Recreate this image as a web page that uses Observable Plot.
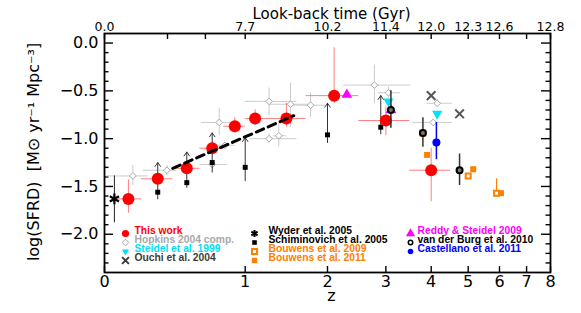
<!DOCTYPE html>
<html><head><meta charset="utf-8">
<script src="https://cdn.jsdelivr.net/npm/d3@7"></script>
<script src="https://cdn.jsdelivr.net/npm/@observablehq/plot@0.6"></script>
<style>
body{margin:0;background:#fff;}
#chart svg{display:block;}
</style></head><body><div id="chart"></div>
<script>
// ---- axes / ticks ----
const bottomTickZ = [0, 1, 2, 3, 4, 5, 6, 7, 8];
const topTickZ = [0, 0.364, 0.644, 1, 2, 3, 4, 5, 6, 7, 8];
const topLabelZ = [0, 1, 2, 3, 4, 5, 6, 8];
const topLabels = ["0.0", "7.7", "10.2", "11.4", "12.0", "12.3", "12.6", "12.8"];
const yMajor = [0, -0.5, -1, -1.5, -2];
const yMinor = [-2.3,-2.2,-2.1,-1.9,-1.8,-1.7,-1.6,-1.4,-1.3,-1.2,-1.1,-0.9,-0.8,-0.7,-0.6,-0.4,-0.3,-0.2,-0.1];

// ---- This work (red) ----
const twZ    = [0.125, 0.30, 0.50, 0.70, 0.90, 1.10, 1.45, 2.10, 3.00, 4.00];
const twZlo  = [0.07, 0.20, 0.40, 0.60, 0.80, 1.00, 1.20, 1.70, 2.50, 3.50];
const twZhi  = [0.20, 0.40, 0.60, 0.80, 1.00, 1.20, 1.70, 2.50, 3.50, 4.50];
const twV    = [-1.63, -1.42, -1.31, -1.10, -0.87, -0.79, -0.79, -0.55, -0.81, -1.33];
const twVlo  = [-1.78, -1.47, -1.36, -1.16, -0.94, -0.86, -0.88, -0.63, -0.97, -1.66];
const twVhi  = [-1.43, -1.37, -1.26, -1.04, -0.78, -0.70, -0.63, -0.05, -0.67, -1.10];

// ---- Hopkins 2004 compilation (gray diamonds) ----
const hopZ   = [0.15, 0.36, 0.70, 0.76, 0.81, 1.25, 1.25, 1.36, 1.50, 1.76, 2.78, 3.05, 4.15, 4.05];
const hopZlo = [0.01, 0.21, 0.60, 0.61, 0.72, 1.00, 1.05, 1.30, 1.25, 1.54, 2.25, 2.85, 3.90, 3.57];
const hopZhi = [0.24, 0.43, 0.83, 0.95, 0.90, 1.58, 1.58, 1.45, 1.75, 1.97, 3.52, 3.30, 4.55, 4.55];
const hopV   = [-1.39, -1.33, -1.27, -0.83, -1.07, -0.61, -1.00, -0.97, -0.64, -0.65, -0.44, -0.52, -0.63, -0.83];
const hopVlo = [-1.49, -1.39, -1.30, -0.97, -1.10, -0.76, -1.05, -1.09, -0.88, -0.78, -0.63, -0.58, -0.67, -0.86];
const hopVhi = [-1.28, -1.28, -1.24, -0.68, -1.04, -0.47, -0.95, -0.84, -0.42, -0.52, -0.23, -0.46, -0.59, -0.80];

// ---- Schiminovich et al. 2005 (black squares, lower limits with arrows) ----
const schZ   = [0.30, 0.50, 0.70, 1.00, 2.00, 2.90];
const schV   = [-1.56, -1.46, -1.25, -1.30, -0.96, -0.88];
const schVlo = [-1.63, -1.51, -1.35, -1.44, -1.04, -0.95];
const schTop = [-1.25, -1.14, -0.94, -0.99, -0.63, -0.55];

// ---- Wyder et al. 2005 ----
const wyZ = [0.05], wyV = [-1.63], wyVlo = [-1.88], wyVhi = [-1.39];

// ---- Ouchi et al. 2004 ----
const ouZ = [4.0, 4.75], ouV = [-0.55, -0.74];
// ---- Steidel et al. 1999 ----
const stZ = [3.05, 4.15], stV = [-0.61, -0.74];
// ---- Reddy & Steidel 2009 ----
const rsZ = [2.3, 3.1], rsV = [-0.54, -0.70];
// ---- van der Burg et al. 2010 ----
const vbZ = [3.1, 3.8, 4.75], vbV = [-0.70, -0.94, -1.33];
const vbVlo = [-0.89, -1.09, -1.49], vbVhi = [-0.50, -0.78, -1.16];
// ---- Bouwens et al. 2009 (open orange squares) ----
const b9Z = [3.8, 5.0, 5.9], b9V = [-0.94, -1.39, -1.57];
const b9Vlo = [-0.94, -1.39, -1.57], b9Vhi = [-0.94, -1.39, -1.42];
// ---- Bouwens et al. 2011 (filled orange squares) ----
const b11Z = [3.9, 5.15, 6.05], b11V = [-1.17, -1.32, -1.57];
// ---- Castellano et al. 2011 ----
const caZ = [4.13], caV = [-1.04], caVlo = [-1.22], caVhi = [-0.83];

// ---- dashed fit line ----
const fitZ = [0.40, 1.54], fitV = [-1.31, -0.76];

// ---- legend ----
const legendLabels = ["This work", "Hopkins 2004 comp.", "Steidel et al. 1999", "Ouchi et al. 2004",
  "Wyder et al. 2005", "Schiminovich et al. 2005", "Bouwens et al. 2009", "Bouwens et al. 2011",
  "Reddy & Steidel 2009", "van der Burg et al. 2010", "Castellano et al. 2011"];
const legendColors = ["#ff0000", "#a8a8a8", "#00e0f0", "#3c3c3c", "#000000", "#000000",
  "#ff8000", "#ff8000", "#ff00ff", "#000000", "#0000ff"];

// x position is log10(1+z)
const L = z => Math.log10(1 + z);

// ---- build tables ----
const tw = twZ.map((z, i) => ({x: L(z), xlo: L(twZlo[i]), xhi: L(twZhi[i]), v: twV[i], lo: twVlo[i], hi: twVhi[i]}));
const hop = hopZ.map((z, i) => ({x: L(z), xlo: L(hopZlo[i]), xhi: L(hopZhi[i]), v: hopV[i], lo: hopVlo[i], hi: hopVhi[i]}));
const sch = schZ.map((z, i) => ({x: L(z), v: schV[i], lo: schVlo[i], top: schTop[i]}));
const wy = wyZ.map((z, i) => ({x: L(z), v: wyV[i], lo: wyVlo[i], hi: wyVhi[i]}));
const ou = ouZ.map((z, i) => ({x: L(z), v: ouV[i]}));
const st = stZ.map((z, i) => ({x: L(z), v: stV[i]}));
const rs = rsZ.map((z, i) => ({x: L(z), v: rsV[i]}));
const vb = vbZ.map((z, i) => ({x: L(z), v: vbV[i], lo: vbVlo[i], hi: vbVhi[i]}));
const b9 = b9Z.map((z, i) => ({x: L(z), v: b9V[i], lo: b9Vlo[i], hi: b9Vhi[i]}));
const b11 = b11Z.map((z, i) => ({x: L(z), v: b11V[i]}));
const ca = caZ.map((z, i) => ({x: L(z), v: caV[i], lo: caVlo[i], hi: caVhi[i]}));
const fit = fitZ.map((z, i) => ({x: L(z), v: fitV[i]}));
const bottomLab = bottomTickZ.map(z => ({x: L(z), t: String(z)}));
const topLab = topLabelZ.map((z, i) => ({x: L(z), t: topLabels[i]}));

const W = 581, H = 313, ML = 104, MR = 31, MT = 33, MB = 41;
const PW = W - ML - MR, PH = H - MT - MB;
const xDom = [0, L(8)], yDom = [-2.4, 0.1];

const legendSym = [
  {symbol: "circle", fill: "#ff0000", r: 3.6},
  {symbol: "diamond2", stroke: "#a8a8a8", r: 3, strokeWidth: 1},
  {symbol: "triangle", fill: "#00e0f0", r: 2.6, rotate: 180},
  {symbol: "times", stroke: "#3c3c3c", r: 3.2, strokeWidth: 2},
  {symbol: "asterisk", stroke: "#000", r: 3.4, strokeWidth: 2},
  {symbol: "square", fill: "#000", r: 2.6},
  {symbol: "square2", stroke: "#ff8000", r: 3.2, strokeWidth: 2},
  {symbol: "square", fill: "#ff8000", r: 3},
  {symbol: "triangle", fill: "#ff00ff", r: 3.4},
  {symbol: "circle", stroke: "#000", fill: "#fff", r: 2.2, strokeWidth: 1.5},
  {symbol: "circle", fill: "#0000ff", r: 2.8}
];
const colMarkDx = [21, 150, 306], colTextDx = [30, 164, 313], rowDy = [-39, -30, -21, -12];
const legendPos = legendLabels.map((_, i) => i < 4 ? [0, i] : i < 8 ? [1, i - 4] : [2, i - 8]);

const legendMarks = legendLabels.flatMap((lab, i) => {
  const [c, r] = legendPos[i];
  return [
    Plot.dot([lab], {frameAnchor: "bottom-left", dx: colMarkDx[c], dy: rowDy[r], ...legendSym[i]}),
    Plot.text([lab], {frameAnchor: "bottom-left", dx: colTextDx[c], dy: rowDy[r], text: d => d,
      textAnchor: "start", fill: legendColors[i], fontSize: 10.3, fontWeight: "bold",
      fontFamily: "Liberation Sans", letterSpacing: 0.3})
  ];
});

const chart = Plot.plot({
  width: W, height: H,
  marginLeft: ML, marginRight: MR, marginTop: MT, marginBottom: MB,
  style: {fontFamily: "DejaVu Sans"},
  x: {domain: xDom, axis: null},
  y: {domain: yDom, axis: null},
  marks: [
    Plot.text(bottomLab, {x: "x", text: "t", frameAnchor: "bottom", lineAnchor: "top", dy: 3, fontSize: 16}),
    Plot.text(topLab, {x: "x", text: "t", frameAnchor: "top", lineAnchor: "bottom", dy: -3, fontSize: 12.5}),
    Plot.axisY(yMajor, {anchor: "left", tickSize: 0, tickPadding: 6,
      tickFormat: d => d.toFixed(1).replace("-", "\u2212"), fontSize: 16, label: null}),
    Plot.text(["z"], {frameAnchor: "bottom", dy: 28, dx: 4, text: d => d, fontSize: 16}),
    Plot.text(["Look-back time (Gyr)"], {frameAnchor: "top", dy: -25, dx: 4, text: d => d, fontSize: 15}),
    Plot.text(["log(SFRD)  [M\u2299 yr\u207B\u00B9 Mpc\u207B\u00B3]"], {frameAnchor: "left", dx: -71, dy: -1,
      rotate: -90, textAnchor: "middle", text: d => d, fontSize: 16}),

    // inward ticks
    Plot.tickX(bottomTickZ, {x: L, insetTop: PH - 6, stroke: "black", strokeWidth: 1.4}),
    Plot.tickX(topTickZ, {x: L, insetBottom: PH - 6, stroke: "black", strokeWidth: 1.4}),
    Plot.tickY(yMajor, {y: d => d, insetRight: PW - 9, stroke: "black", strokeWidth: 1.4}),
    Plot.tickY(yMinor, {y: d => d, insetRight: PW - 4.5, stroke: "black", strokeWidth: 1.4}),
    Plot.tickY(yMajor, {y: d => d, insetLeft: PW - 9, stroke: "black", strokeWidth: 1.4}),
    Plot.tickY(yMinor, {y: d => d, insetLeft: PW - 4.5, stroke: "black", strokeWidth: 1.4}),

    // Hopkins
    Plot.ruleY(hop, {y: "v", x1: "xlo", x2: "xhi", stroke: "#cccccc", strokeWidth: 1}),
    Plot.ruleX(hop, {x: "x", y1: "lo", y2: "hi", stroke: "#cccccc", strokeWidth: 1}),
    Plot.dot(hop, {x: "x", y: "v", symbol: "diamond2", r: 3, stroke: "#aaaaaa", strokeWidth: 1, fill: "#fff"}),

    // This work error bars
    Plot.ruleY(tw, {y: "v", x1: "xlo", x2: "xhi", stroke: "#ff7f7f", strokeWidth: 1}),
    Plot.ruleX(tw, {x: "x", y1: "lo", y2: "hi", stroke: "#ff7f7f", strokeWidth: 1}),

    // Schiminovich
    Plot.arrow(sch, {x1: "x", x2: "x", y1: "lo", y2: "top", stroke: "#333", strokeWidth: 1, headLength: 7, headAngle: 70}),
    Plot.dot(sch, {x: "x", y: "v", symbol: "square", r: 2.8, fill: "#000"}),

    // Wyder
    Plot.ruleX(wy, {x: "x", y1: "lo", y2: "hi", stroke: "#222", strokeWidth: 1}),
    Plot.dot(wy, {x: "x", y: "v", symbol: "asterisk", r: 5, stroke: "#000", strokeWidth: 2.2}),

    // This work
    Plot.dot(tw, {x: "x", y: "v", r: 6, fill: "#ff0000"}),

    // dashed fit
    Plot.line(fit, {x: "x", y: "v", stroke: "#000", strokeWidth: 3, strokeDasharray: "8,5"}),

    // Bouwens
    Plot.ruleX(b9, {x: "x", y1: "lo", y2: "hi", stroke: "#ff8000", strokeWidth: 1.2}),
    Plot.dot(b9, {x: "x", y: "v", symbol: "square2", r: 3.2, stroke: "#ff8000", strokeWidth: 2, fill: "#fff"}),
    Plot.dot(b11, {x: "x", y: "v", symbol: "square", r: 3.4, fill: "#ff8000"}),

    // Ouchi, Reddy & Steidel, Steidel
    Plot.dot(ou, {x: "x", y: "v", symbol: "times", r: 4, stroke: "#555", strokeWidth: 2}),
    Plot.dot(rs, {x: "x", y: "v", symbol: "triangle", r: 4, fill: "#ff00ff"}),
    Plot.dot(st, {x: "x", y: "v", symbol: "triangle", r: 3.8, fill: "#00e5f5", rotate: 180}),
    // van der Burg
    Plot.ruleX(vb, {x: "x", y1: "lo", y2: "hi", stroke: "#333", strokeWidth: 1.5}),
    Plot.dot(vb, {x: "x", y: "v", r: 3, stroke: "#000", strokeWidth: 2, fill: "#777"}),
    // Castellano
    Plot.ruleX(ca, {x: "x", y1: "lo", y2: "hi", stroke: "#0000ff", strokeWidth: 1.5}),
    Plot.dot(ca, {x: "x", y: "v", r: 4, fill: "#0000ff"}),

    ...legendMarks,
    Plot.frame({stroke: "black", strokeWidth: 1.8})
  ]
});
document.getElementById("chart").appendChild(chart);
</script></body></html>
